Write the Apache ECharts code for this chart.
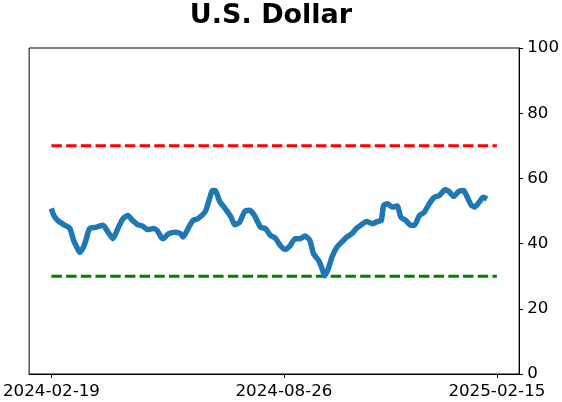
<!DOCTYPE html>
<html>
<head>
<meta charset="utf-8">
<script src="https://cdn.jsdelivr.net/npm/echarts@6/dist/echarts.min.js"></script>
<style>
  html, body { margin: 0; padding: 0; background: #fff; }
  #main { width: 562px; height: 402px; }
</style>
</head>
<body>
<div id="main"></div>
<script>
    var dates = ['2024-02-19','2024-02-21','2024-02-25','2024-03-01','2024-03-05','2024-03-08','2024-03-10',
        '2024-03-13','2024-03-16','2024-03-18','2024-03-21','2024-03-26','2024-04-01','2024-04-05','2024-04-09',
        '2024-04-13','2024-04-17','2024-04-21','2024-04-25','2024-04-29','2024-05-03','2024-05-07','2024-05-12',
        '2024-05-15','2024-05-18','2024-05-20','2024-05-24','2024-05-30','2024-06-03','2024-06-05','2024-06-09',
        '2024-06-13','2024-06-17','2024-06-23','2024-06-26','2024-06-29','2024-07-01','2024-07-05','2024-07-09',
        '2024-07-14','2024-07-17','2024-07-21','2024-07-25','2024-07-29','2024-08-02','2024-08-07','2024-08-11',
        '2024-08-15','2024-08-19','2024-08-23','2024-08-27','2024-08-31','2024-09-04','2024-09-08','2024-09-12',
        '2024-09-16','2024-09-19','2024-09-23','2024-09-26','2024-09-28','2024-10-01','2024-10-04','2024-10-08',
        '2024-10-12','2024-10-16','2024-10-20','2024-10-24','2024-10-28','2024-11-01','2024-11-06','2024-11-10',
        '2024-11-13','2024-11-15','2024-11-18','2024-11-22','2024-11-26','2024-11-29','2024-12-03','2024-12-07',
        '2024-12-10','2024-12-14','2024-12-18','2024-12-22','2024-12-26','2024-12-30','2025-01-04','2025-01-07',
        '2025-01-11','2025-01-15','2025-01-19','2025-01-21','2025-01-25','2025-01-28','2025-02-01','2025-02-04',
        '2025-02-07'];
    var values = [50.8, 48.6, 46.8, 45.6, 44.7, 41.0, 39.4, 37.3, 38.9, 41.0, 44.6, 45.0, 45.6, 43.5, 41.5,
        44.6, 47.6, 48.6, 47.1, 45.8, 45.4, 44.3, 44.6, 44.0, 42.0, 41.5, 43.0, 43.5, 43.0, 42.0, 44.6,
        47.1, 47.6, 49.8, 53.2, 56.3, 56.3, 52.7, 50.9, 48.1, 45.8, 46.6, 49.8, 50.2, 48.6, 45.0, 44.6,
        42.5, 41.7, 39.4, 38.2, 39.4, 41.5, 41.5, 42.3, 41.0, 36.9, 34.9, 32.3, 30.1, 32.3, 35.9, 38.9,
        40.5, 42.0, 43.0, 44.7, 45.8, 46.8, 46.1, 46.8, 47.1, 51.7, 52.2, 51.2, 51.5, 48.1, 47.1, 45.6,
        45.6, 48.6, 49.6, 52.2, 54.2, 54.7, 56.5, 56.0, 54.5, 56.0, 56.3, 55.0, 51.9, 51.2, 52.9, 54.2,
        53.7];
    var tickDates = ['2024-02-19', '2024-08-26', '2025-02-15'];
    var upperLevel = 70;
    var lowerLevel = 30;

    // 'yyyy-mm-dd' -> UTC ms
    function toTime(s) {
        var p = s.split('-');
        return Date.UTC(+p[0], +p[1] - 1, +p[2]);
    }
    function pad2(n) {
        return n < 10 ? '0' + n : '' + n;
    }
    function fmtDate(v) {
        var d = new Date(Math.round(v));
        return d.getUTCFullYear() + '-' + pad2(d.getUTCMonth() + 1) + '-' + pad2(d.getUTCDate());
    }

    var tickTimes = tickDates.map(toTime);
    var first = tickTimes[0];
    var last = tickTimes[tickTimes.length - 1];
    var pad = (last - first) * 0.05;

    var lineData = [];
    for (var i = 0; i < dates.length; i++) {
        lineData.push([toTime(dates[i]), values[i]]);
    }

    function levelLine(level, color) {
        return {
            type: 'line',
            data: [[first, level], [last, level]],
            showSymbol: false,
            silent: true,
            lineStyle: { color: color, width: 3, type: [10.5, 4.2] },
            z: 1
        };
    }

    var option = {
        animation: false,
        title: {
            text: 'U.S. Dollar',
            left: 266,
            textAlign: 'center',
            top: -3,
            textStyle: { fontFamily: 'DejaVu Sans', fontWeight: 'bold', fontSize: 27, color: '#000' }
        },
        grid: {
            left: 26, right: 41, top: 48, bottom: 28,
            show: true, borderColor: '#000', borderWidth: 1, backgroundColor: '#fff'
        },
        xAxis: {
            type: 'value',
            min: first - pad,
            max: last + pad,
            splitLine: { show: false },
            axisLine: { show: true, lineStyle: { color: '#000', width: 1 } },
            axisTick: {
                show: true, length: 4, lineStyle: { color: '#000' },
                customValues: tickTimes
            },
            axisLabel: {
                customValues: tickTimes,
                formatter: fmtDate,
                fontFamily: 'DejaVu Sans', fontSize: 16.7, color: '#000', margin: 9,
                hideOverlap: false
            }
        },
        yAxis: {
            type: 'value',
            position: 'right',
            min: 0, max: 100, interval: 20,
            splitLine: { show: false },
            axisLine: { show: true, lineStyle: { color: '#000', width: 1 } },
            axisTick: { show: true, length: 4, lineStyle: { color: '#000' } },
            axisLabel: { fontFamily: 'DejaVu Sans', fontSize: 16.7, color: '#000', margin: 8 }
        },
        series: [
            levelLine(upperLevel, '#ff0000'),
            levelLine(lowerLevel, '#008000'),
            {
                type: 'line',
                data: lineData,
                showSymbol: false,
                smooth: 0.2,
                lineStyle: { color: '#1f77b4', width: 5.5, cap: 'butt' },
                z: 3
            }
        ]
    };

    var myChart = echarts.init(document.getElementById('main'));
    myChart.setOption(option);
</script>
</body>
</html>
